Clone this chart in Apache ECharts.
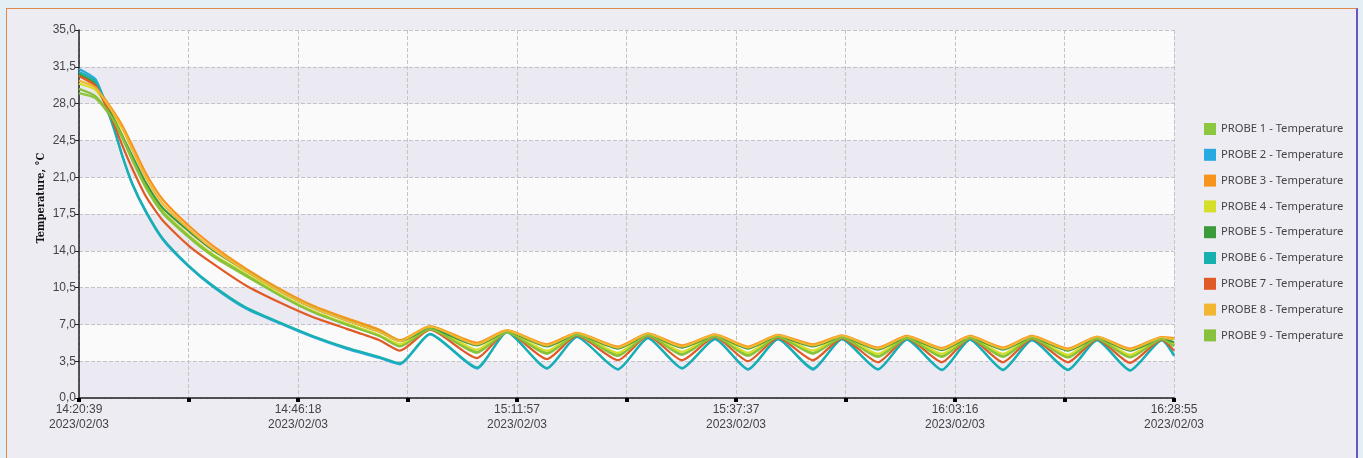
<!DOCTYPE html>
<html>
<head>
<meta charset="utf-8">
<title>Probe temperatures</title>
<script src="https://cdn.jsdelivr.net/npm/echarts@6/dist/echarts.min.js"></script>
<style>
    html, body { margin: 0; padding: 0; background: #e3eff5; overflow: hidden; }
    #frame {
        position: absolute; left: 6px; top: 8px; width: 1349px; height: 452px;
        background: #eeecf3;
        border-left: 1px solid #e0894f; border-top: 1px solid #e0894f;
        border-right: 2px solid #6a55c6;
    }
    #chart { position: absolute; left: 0; top: 0; width: 1363px; height: 458px; }
</style>
</head>
<body>
<div id="frame"></div>
<div id="chart"></div>
<script>
// seconds elapsed since 14:20:39 (2023/02/03)
var startSec = 14 * 3600 + 20 * 60 + 39;
var spanSec = 7696;
var tickStep = 769.6;

var times = [
    0, 117, 235, 305, 375, 469, 587, 770, 939, 1173, 1408, 1642, 1877, 2112, 2256,
    2467, 2797, 3008, 3289, 3500, 3788, 3999, 4238, 4470, 4702, 4913, 5159,
    5362, 5615, 5819, 6065, 6262, 6494, 6698, 6951, 7155, 7387, 7611, 7696
];

var probe1 = [29.0, 28.5, 26.5, 24.7, 22.6, 20.0, 17.6, 15.3, 13.5, 11.6, 9.8, 8.2, 7.0, 5.9, 5.0,
    6.6, 4.4, 6.3, 4.3, 6.05, 4.1, 6.0, 4.2, 5.9, 4.1, 5.85, 4.3, 5.8, 4.0, 5.75, 4.0, 5.75, 4.0, 5.75, 3.95, 5.7, 3.95, 5.65, 5.0];
var probe2 = [31.3, 30.3, 26.2, 23.0, 20.3, 17.7, 15.1, 12.5, 10.6, 8.5, 7.1, 5.8, 4.7, 3.8, 3.2,
    6.05, 2.8, 6.3, 2.8, 5.8, 2.7, 5.7, 2.8, 5.6, 2.7, 5.6, 2.7, 5.6, 2.7, 5.55, 2.65, 5.55, 2.65, 5.5, 2.65, 5.5, 2.6, 5.5, 4.0];
var probe3 = [30.7, 29.6, 27.4, 25.9, 24.0, 21.4, 18.9, 16.4, 14.5, 12.3, 10.4, 8.8, 7.6, 6.5, 5.5,
    6.85, 5.25, 6.45, 5.1, 6.2, 4.9, 6.15, 5.0, 6.05, 4.9, 6.0, 5.1, 5.95, 4.8, 5.9, 4.75, 5.9, 4.8, 5.9, 4.7, 5.85, 4.7, 5.8, 5.7];
var probe4 = [29.9, 29.3, 26.9, 25.0, 22.8, 20.2, 17.8, 15.5, 13.7, 11.8, 9.9, 8.3, 7.1, 6.0, 5.1,
    6.7, 4.6, 6.35, 4.5, 6.1, 4.3, 6.05, 4.4, 5.95, 4.3, 5.9, 4.5, 5.85, 4.2, 5.8, 4.2, 5.8, 4.2, 5.8, 4.1, 5.75, 4.1, 5.7, 5.2];
var probe5 = [30.8, 29.9, 26.8, 24.9, 23.0, 20.5, 18.1, 15.9, 14.1, 12.1, 10.2, 8.6, 7.4, 6.3, 5.4,
    6.6, 5.0, 6.3, 4.9, 6.05, 4.7, 6.0, 4.8, 5.9, 4.7, 5.85, 4.9, 5.8, 4.6, 5.75, 4.55, 5.75, 4.6, 5.75, 4.5, 5.7, 4.5, 5.65, 5.3];
var probe6 = [31.0, 30.1, 26.0, 23.0, 20.4, 17.8, 15.2, 12.6, 10.7, 8.6, 7.2, 5.9, 4.8, 3.9, 3.3,
    6.1, 2.9, 6.25, 2.85, 5.8, 2.75, 5.7, 2.85, 5.6, 2.75, 5.6, 2.8, 5.6, 2.75, 5.55, 2.7, 5.55, 2.7, 5.5, 2.7, 5.5, 2.65, 5.5, 4.1];
var probe7 = [30.6, 29.7, 26.4, 24.0, 21.8, 19.2, 16.9, 14.5, 12.8, 10.7, 9.1, 7.7, 6.6, 5.5, 4.5,
    6.5, 3.8, 6.3, 3.7, 5.95, 3.6, 5.9, 3.6, 5.8, 3.5, 5.75, 3.6, 5.7, 3.4, 5.7, 3.4, 5.7, 3.4, 5.65, 3.4, 5.6, 3.35, 5.55, 4.5];
var probe8 = [30.2, 29.5, 27.2, 25.6, 23.6, 21.0, 18.5, 16.1, 14.2, 12.1, 10.2, 8.6, 7.4, 6.3, 5.4,
    6.8, 5.1, 6.4, 5.0, 6.15, 4.8, 6.1, 4.9, 6.0, 4.8, 5.95, 5.0, 5.9, 4.7, 5.85, 4.65, 5.85, 4.7, 5.85, 4.6, 5.8, 4.6, 5.75, 5.6];
var probe9 = [29.4, 28.7, 26.6, 24.8, 22.7, 20.1, 17.7, 15.4, 13.6, 11.7, 9.8, 8.2, 7.0, 5.9, 4.9,
    6.55, 4.3, 6.25, 4.2, 6.0, 4.0, 5.95, 4.1, 5.85, 4.0, 5.8, 4.2, 5.75, 3.9, 5.7, 3.9, 5.7, 3.9, 5.7, 3.85, 5.65, 3.85, 5.6, 4.9];

var probeNames = [
    'PROBE 1 - Temperature', 'PROBE 2 - Temperature', 'PROBE 3 - Temperature',
    'PROBE 4 - Temperature', 'PROBE 5 - Temperature', 'PROBE 6 - Temperature',
    'PROBE 7 - Temperature', 'PROBE 8 - Temperature', 'PROBE 9 - Temperature'
];
var probeValues = [probe1, probe2, probe3, probe4, probe5, probe6, probe7, probe8, probe9];
var probeColors = ['#8dc63f', '#29a9e1', '#f7941d', '#d5df2a', '#3a9a3c', '#16b0ae', '#e05a27', '#f2b632', '#88c23d'];

function pad(n) {
    return n < 10 ? '0' + n : '' + n;
}

// x 轴标签: 每隔一个刻度显示时间和日期
function timeLabel(value) {
    var step = Math.round(value / tickStep);
    if (step % 2 !== 0) {
        return '';
    }
    var s = Math.round(startSec + value);
    var h = Math.floor(s / 3600);
    var m = Math.floor((s % 3600) / 60);
    return pad(h) + ':' + pad(m) + ':' + pad(s % 60) + '\n2023/02/03';
}

var chart = echarts.init(document.getElementById('chart'), null, { renderer: 'canvas' });

var series = [];
for (var i = 0; i < probeNames.length; i++) {
    var vals = probeValues[i];
    series.push({
        name: probeNames[i],
        type: 'line',
        showSymbol: false,
        symbol: 'none',
        smooth: 0.2,
        color: probeColors[i],
        lineStyle: { width: 2.2, color: probeColors[i] },
        data: times.map(function(t, k) { return [t, vals[k]]; })
    });
}

var axisFont = 'Liberation Sans Narrow, Arial Narrow, Liberation Sans, sans-serif';

var option = {
    animation: false,
    backgroundColor: 'transparent',
    grid: { left: 79, right: 189, top: 30, bottom: 60, containLabel: false },
    legend: {
        orient: 'vertical',
        left: 1199,
        top: 118,
        itemWidth: 12,
        itemHeight: 12,
        itemGap: 13.8,
        icon: 'rect',
        textStyle: { fontFamily: 'Noto Sans', fontSize: 11.2, color: '#444' },
        data: probeNames
    },
    graphic: [{
        type: 'text',
        x: 41,
        y: 198,
        rotation: Math.PI / 2,
        style: {
            text: 'Temperature, °C',
            fontFamily: 'DejaVu Serif Condensed, Liberation Serif, serif',
            fontWeight: 'bold',
            fontSize: 11,
            fill: '#111',
            align: 'center',
            verticalAlign: 'middle'
        }
    }],
    xAxis: {
        type: 'value',
        min: 0,
        max: spanSec,
        interval: tickStep,
        axisLine: { show: true, lineStyle: { color: '#222', width: 1.5 } },
        axisTick: { show: true, inside: false, length: 4, lineStyle: { color: '#000', width: 4 } },
        axisLabel: {
            formatter: timeLabel,
            color: '#444',
            fontFamily: axisFont,
            fontSize: 12,
            lineHeight: 15,
            margin: 4,
            showMinLabel: true,
            showMaxLabel: true
        },
        splitLine: { show: true, lineStyle: { color: '#c4c4c8', type: 'dashed', width: 1 } }
    },
    yAxis: {
        type: 'value',
        min: 0,
        max: 35,
        interval: 3.5,
        axisLine: { show: true, lineStyle: { color: '#222', width: 1.5 } },
        axisTick: { show: true, length: 4, lineStyle: { color: '#222', width: 1 } },
        axisLabel: {
            formatter: function(v) { return v.toFixed(1).replace('.', ','); },
            color: '#444',
            fontFamily: axisFont,
            fontSize: 12,
            margin: 3
        },
        splitLine: { show: true, lineStyle: { color: '#c4c4c8', type: 'dashed', width: 1 } },
        splitArea: { show: true, areaStyle: { color: ['#ebe9f1', '#fafafa'] } }
    },
    series: series
};

chart.setOption(option);
</script>
</body>
</html>
